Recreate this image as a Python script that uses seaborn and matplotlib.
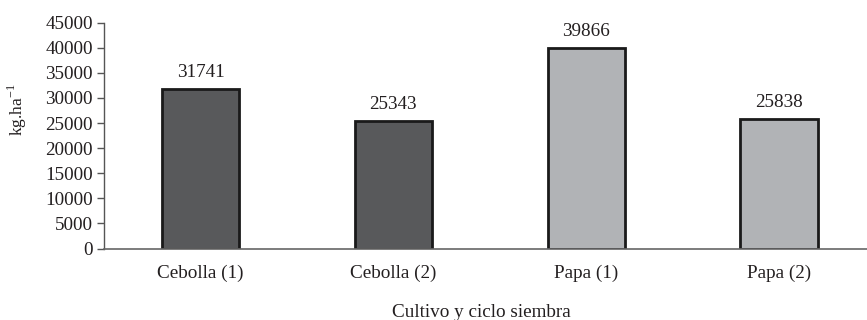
import matplotlib
matplotlib.use("Agg")
import matplotlib.pyplot as plt
from matplotlib.ticker import FixedLocator
import seaborn as sns
import pandas as pd

categories = ["Cebolla (1)", "Cebolla (2)", "Papa (1)", "Papa (2)"]
yields = [31741, 25343, 39866, 25838]
bar_colors = ["#58595b", "#58595b", "#b1b3b6", "#b1b3b6"]
y_ticks = list(range(0, 45001, 5000))

sns.set_style("white")
plt.rcParams["font.family"] = ["Liberation Serif", "DejaVu Serif"]

FS = 13.8
TXT = "#231f20"

df = pd.DataFrame({"cultivo": categories, "rendimiento": yields})

fig = plt.figure(figsize=(8.67, 3.2), dpi=100)
ax = fig.add_axes([104 / 867, (320 - 248.5) / 320, (875.5 - 104) / 867, (248.5 - 22.7) / 320])

sns.barplot(data=df, x="cultivo", y="rendimiento", hue="cultivo",
            palette=bar_colors, width=0.4, edgecolor="#1a1a1a",
            linewidth=2, legend=False, ax=ax, saturation=1)

for i, v in enumerate(yields):
    ax.annotate(f"{v}", xy=(i, v), xytext=(0, 6), textcoords="offset points",
                ha="center", va="bottom", fontsize=FS, color=TXT)

ax.set_xlim(-0.5, 3.5)
ax.set_ylim(0, 45000)
ax.set_yticks(y_ticks)
ax.set_yticklabels([str(t) for t in y_ticks], fontsize=FS, color=TXT)
ax.set_xticks(range(len(categories)))
ax.set_xticklabels(categories, fontsize=FS, color=TXT)
ax.xaxis.set_minor_locator(FixedLocator([-0.5, 0.5, 1.5, 2.5, 3.5]))
ax.tick_params(axis="x", which="major", length=0, pad=12)
ax.tick_params(axis="x", which="minor", length=5, direction="out", color="#555555", width=1)
ax.tick_params(axis="y", length=5, direction="out", color="#555555", width=1, pad=3, left=True)

for side in ["top", "right"]:
    ax.spines[side].set_visible(False)
ax.spines["left"].set_color("#555555")
ax.spines["bottom"].set_color("#666666")
ax.spines["left"].set_linewidth(1)
ax.spines["bottom"].set_linewidth(1.2)

ax.set_ylabel("")
ax.set_xlabel("Cultivo y ciclo siembra", fontsize=FS, color=TXT)
ax.xaxis.set_label_coords((481 - 104) / (875.5 - 104), -(304 - 248.5) / (248.5 - 22.7))
fig.text(17 / 867, 1 - 110 / 320, "kg.ha$^{\\mathregular{-1}}$", rotation=90,
         ha="center", va="center", fontsize=12.5, color=TXT)

fig.savefig("out.png", dpi=100)
